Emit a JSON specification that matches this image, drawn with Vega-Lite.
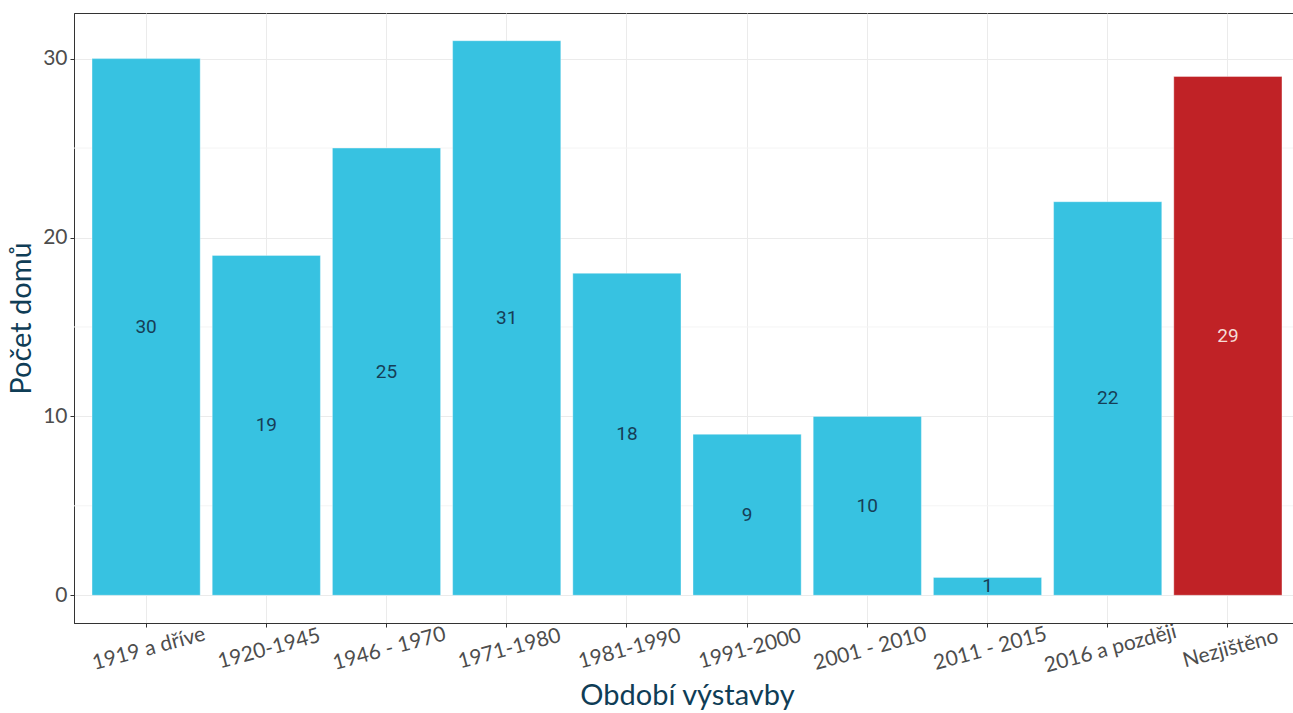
{
  "$schema": "https://vega.github.io/schema/vega-lite/v6.json",
  "autosize": "none",
  "padding": {"left": 74, "top": 13, "right": 0, "bottom": 90},
  "width": 1226,
  "height": 610,
  "background": "white",
  "config": {
    "view": {"stroke": "#333333", "strokeWidth": 1},
    "font": "Lato"
  },
  "datasets": {
    "bars": [
      {"obdobi": "1919 a dříve", "n": 30, "typ": "zjištěno"},
      {"obdobi": "1920-1945", "n": 19, "typ": "zjištěno"},
      {"obdobi": "1946 - 1970", "n": 25, "typ": "zjištěno"},
      {"obdobi": "1971-1980", "n": 31, "typ": "zjištěno"},
      {"obdobi": "1981-1990", "n": 18, "typ": "zjištěno"},
      {"obdobi": "1991-2000", "n": 9, "typ": "zjištěno"},
      {"obdobi": "2001 - 2010", "n": 10, "typ": "zjištěno"},
      {"obdobi": "2011 - 2015", "n": 1, "typ": "zjištěno"},
      {"obdobi": "2016 a později", "n": 22, "typ": "zjištěno"},
      {"obdobi": "Nezjištěno", "n": 29, "typ": "nezjištěno"}
    ],
    "minor": [{"v": 5}, {"v": 15}, {"v": 25}]
  },
  "resolve": {"scale": {"color": "independent"}},
  "layer": [
    {
      "data": {"name": "minor"},
      "mark": {"type": "rule", "color": "#f4f4f4", "strokeWidth": 1},
      "encoding": {
        "y": {"field": "v", "type": "quantitative", "scale": {"domain": [-1.55, 32.55], "nice": false, "zero": false}}
      }
    },
    {
      "data": {"name": "bars"},
      "mark": {"type": "bar", "stroke": "white", "strokeWidth": 0.6, "strokeOpacity": 0.6},
      "encoding": {
        "x": {
          "field": "obdobi", "type": "nominal", "sort": null,
          "scale": {"paddingInner": 0.1, "paddingOuter": 0.15},
          "axis": {
            "title": "Období výstavby",
            "titleFont": "Lato", "titleFontSize": 29, "titleFontWeight": "normal", "titleColor": "#0f3d56",
            "titlePadding": 6,
            "labelAngle": -15, "labelAlign": "center", "labelBaseline": "top",
            "labelFont": "Lato", "labelFontSize": 21, "labelColor": "#4d4d4d", "labelPadding": 11,
            "tickColor": "#333333", "tickSize": 4,
            "domainColor": "#333333",
            "grid": true, "gridColor": "#ebebeb", "gridWidth": 1, "bandPosition": 0.5
          }
        },
        "y": {
          "field": "n", "type": "quantitative",
          "scale": {"domain": [-1.55, 32.55], "nice": false, "zero": false},
          "axis": {
            "title": "Počet domů",
            "values": [0, 10, 20, 30],
            "titleFont": "Lato", "titleFontSize": 29, "titleFontWeight": "normal", "titleColor": "#0f3d56",
            "titlePadding": 6,
            "labelFont": "Lato", "labelFontSize": 21, "labelColor": "#4d4d4d", "labelPadding": 3,
            "tickColor": "#333333", "tickSize": 4,
            "domainColor": "#333333",
            "grid": true, "gridColor": "#ebebeb", "gridWidth": 1
          }
        },
        "y2": {"datum": 0},
        "color": {
          "field": "typ", "type": "nominal",
          "scale": {"domain": ["zjištěno", "nezjištěno"], "range": ["#37c2e1", "#c02226"]},
          "legend": null
        }
      }
    },
    {
      "data": {"name": "bars"},
      "transform": [{"calculate": "datum.n / 2", "as": "stred"}],
      "mark": {"type": "text", "font": "Roboto", "fontSize": 19, "baseline": "middle", "align": "center"},
      "encoding": {
        "x": {"field": "obdobi", "type": "nominal", "sort": null},
        "y": {"field": "stred", "type": "quantitative"},
        "text": {"field": "n", "type": "quantitative"},
        "color": {
          "field": "typ", "type": "nominal",
          "scale": {"domain": ["zjištěno", "nezjištěno"], "range": ["#163e57", "#f6dcd6"]},
          "legend": null
        }
      }
    }
  ]
}
